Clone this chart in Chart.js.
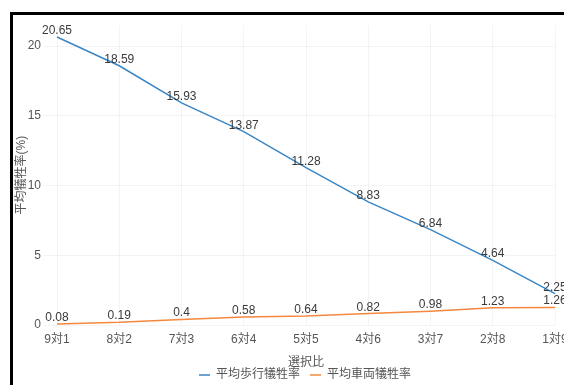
<!DOCTYPE html>
<html>
<head>
<meta charset="utf-8">
<script src="https://cdn.jsdelivr.net/npm/chart.js@4/dist/chart.umd.min.js"></script>
<style>
  html, body { margin: 0; padding: 0; background: #fff; overflow: hidden; width: 564px; height: 385px; }
  #frame {
    position: absolute; left: 10px; top: 12px; width: 700px; height: 500px;
    border-top: 3px solid #000; border-left: 3px solid #000;
  }
  #wrap { position: absolute; left: 0; top: 0; width: 584px; height: 376px; }
</style>
</head>
<body>
<div id="frame"><div id="wrap"><canvas id="c"></canvas></div></div>
<script>
// 選択比ごとの平均犠牲率
const categories = ['9対1', '8対2', '7対3', '6対4', '5対5', '4対6', '3対7', '2対8', '1対9'];
const pedestrianRate = [20.65, 18.59, 15.93, 13.87, 11.28, 8.83, 6.84, 4.64, 2.25];
const vehicleRate = [0.08, 0.19, 0.4, 0.58, 0.64, 0.82, 0.98, 1.23, 1.26];
const seriesNames = ['平均歩行犠牲率', '平均車両犠牲率'];
const yTicks = [0, 5, 10, 15, 20];

const FONT = '"Liberation Sans", "Noto Sans CJK JP", sans-serif';
const BLUE = '#3a86c6';
const ORANGE = '#f5883c';

// writes each value just above its point
const valueLabels = {
  id: 'valueLabels',
  afterDatasetsDraw(chart) {
    const ctx = chart.ctx;
    ctx.save();
    ctx.font = '12px ' + FONT;
    ctx.fillStyle = '#3a3a3a';
    ctx.textAlign = 'center';
    ctx.textBaseline = 'alphabetic';
    chart.data.datasets.forEach((ds, i) => {
      const meta = chart.getDatasetMeta(i);
      meta.data.forEach((pt, j) => {
        ctx.fillText(String(ds.data[j]), pt.x, pt.y - 3);
      });
    });
    ctx.restore();
  }
};

new Chart(document.getElementById('c'), {
  type: 'line',
  data: {
    labels: categories,
    datasets: [
      { label: seriesNames[0], data: pedestrianRate, borderColor: BLUE, backgroundColor: BLUE,
        borderWidth: 1.5, pointRadius: 0, tension: 0, yAxisID: 'y' },
      { label: seriesNames[1], data: vehicleRate, borderColor: ORANGE, backgroundColor: ORANGE,
        borderWidth: 1.5, pointRadius: 0, tension: 0, yAxisID: 'y' }
    ]
  },
  options: {
    responsive: true,
    maintainAspectRatio: false,
    animation: false,
    layout: { padding: { top: 3, left: 0, right: 0, bottom: 0 } },
    plugins: {
      tooltip: { enabled: false },
      legend: {
        position: 'bottom',
        labels: {
          usePointStyle: true,
          pointStyle: 'line',
          pointStyleWidth: 11,
          padding: 10,
          color: '#555',
          font: { size: 12, family: FONT }
        }
      }
    },
    scales: {
      x: {
        grid: { color: 'rgba(0,0,0,0.045)', drawTicks: false },
        border: { display: false },
        ticks: { color: '#555', padding: 7, font: { size: 12, family: FONT }, maxRotation: 0 },
        title: { display: true, text: '選択比', color: '#555', font: { size: 12, family: FONT },
                 padding: { top: 0, bottom: -11 } },
        afterFit(scale) { scale.height = 34; }
      },
      y: {
        min: 0,
        max: 21.5,
        grid: { color: 'rgba(0,0,0,0.045)', drawTicks: true, tickLength: 13 },
        border: { display: false },
        ticks: { stepSize: 5, padding: 3, color: '#555', font: { size: 12, family: FONT } },
        afterBuildTicks(scale) {
          scale.ticks = yTicks.map(v => ({ value: v }));
        },
        title: { display: true, text: '平均犠牲率(%)', color: '#555', font: { size: 12, family: FONT },
                 padding: { top: 1, bottom: 0 } },
        afterFit(scale) { scale.width = 44; }
      },
      yRight: {
        position: 'right',
        display: true,
        grid: { display: false },
        border: { display: false },
        ticks: { display: false },
        afterFit(scale) { scale.width = 42; }
      }
    }
  },
  plugins: [valueLabels]
});
</script>
</body>
</html>
